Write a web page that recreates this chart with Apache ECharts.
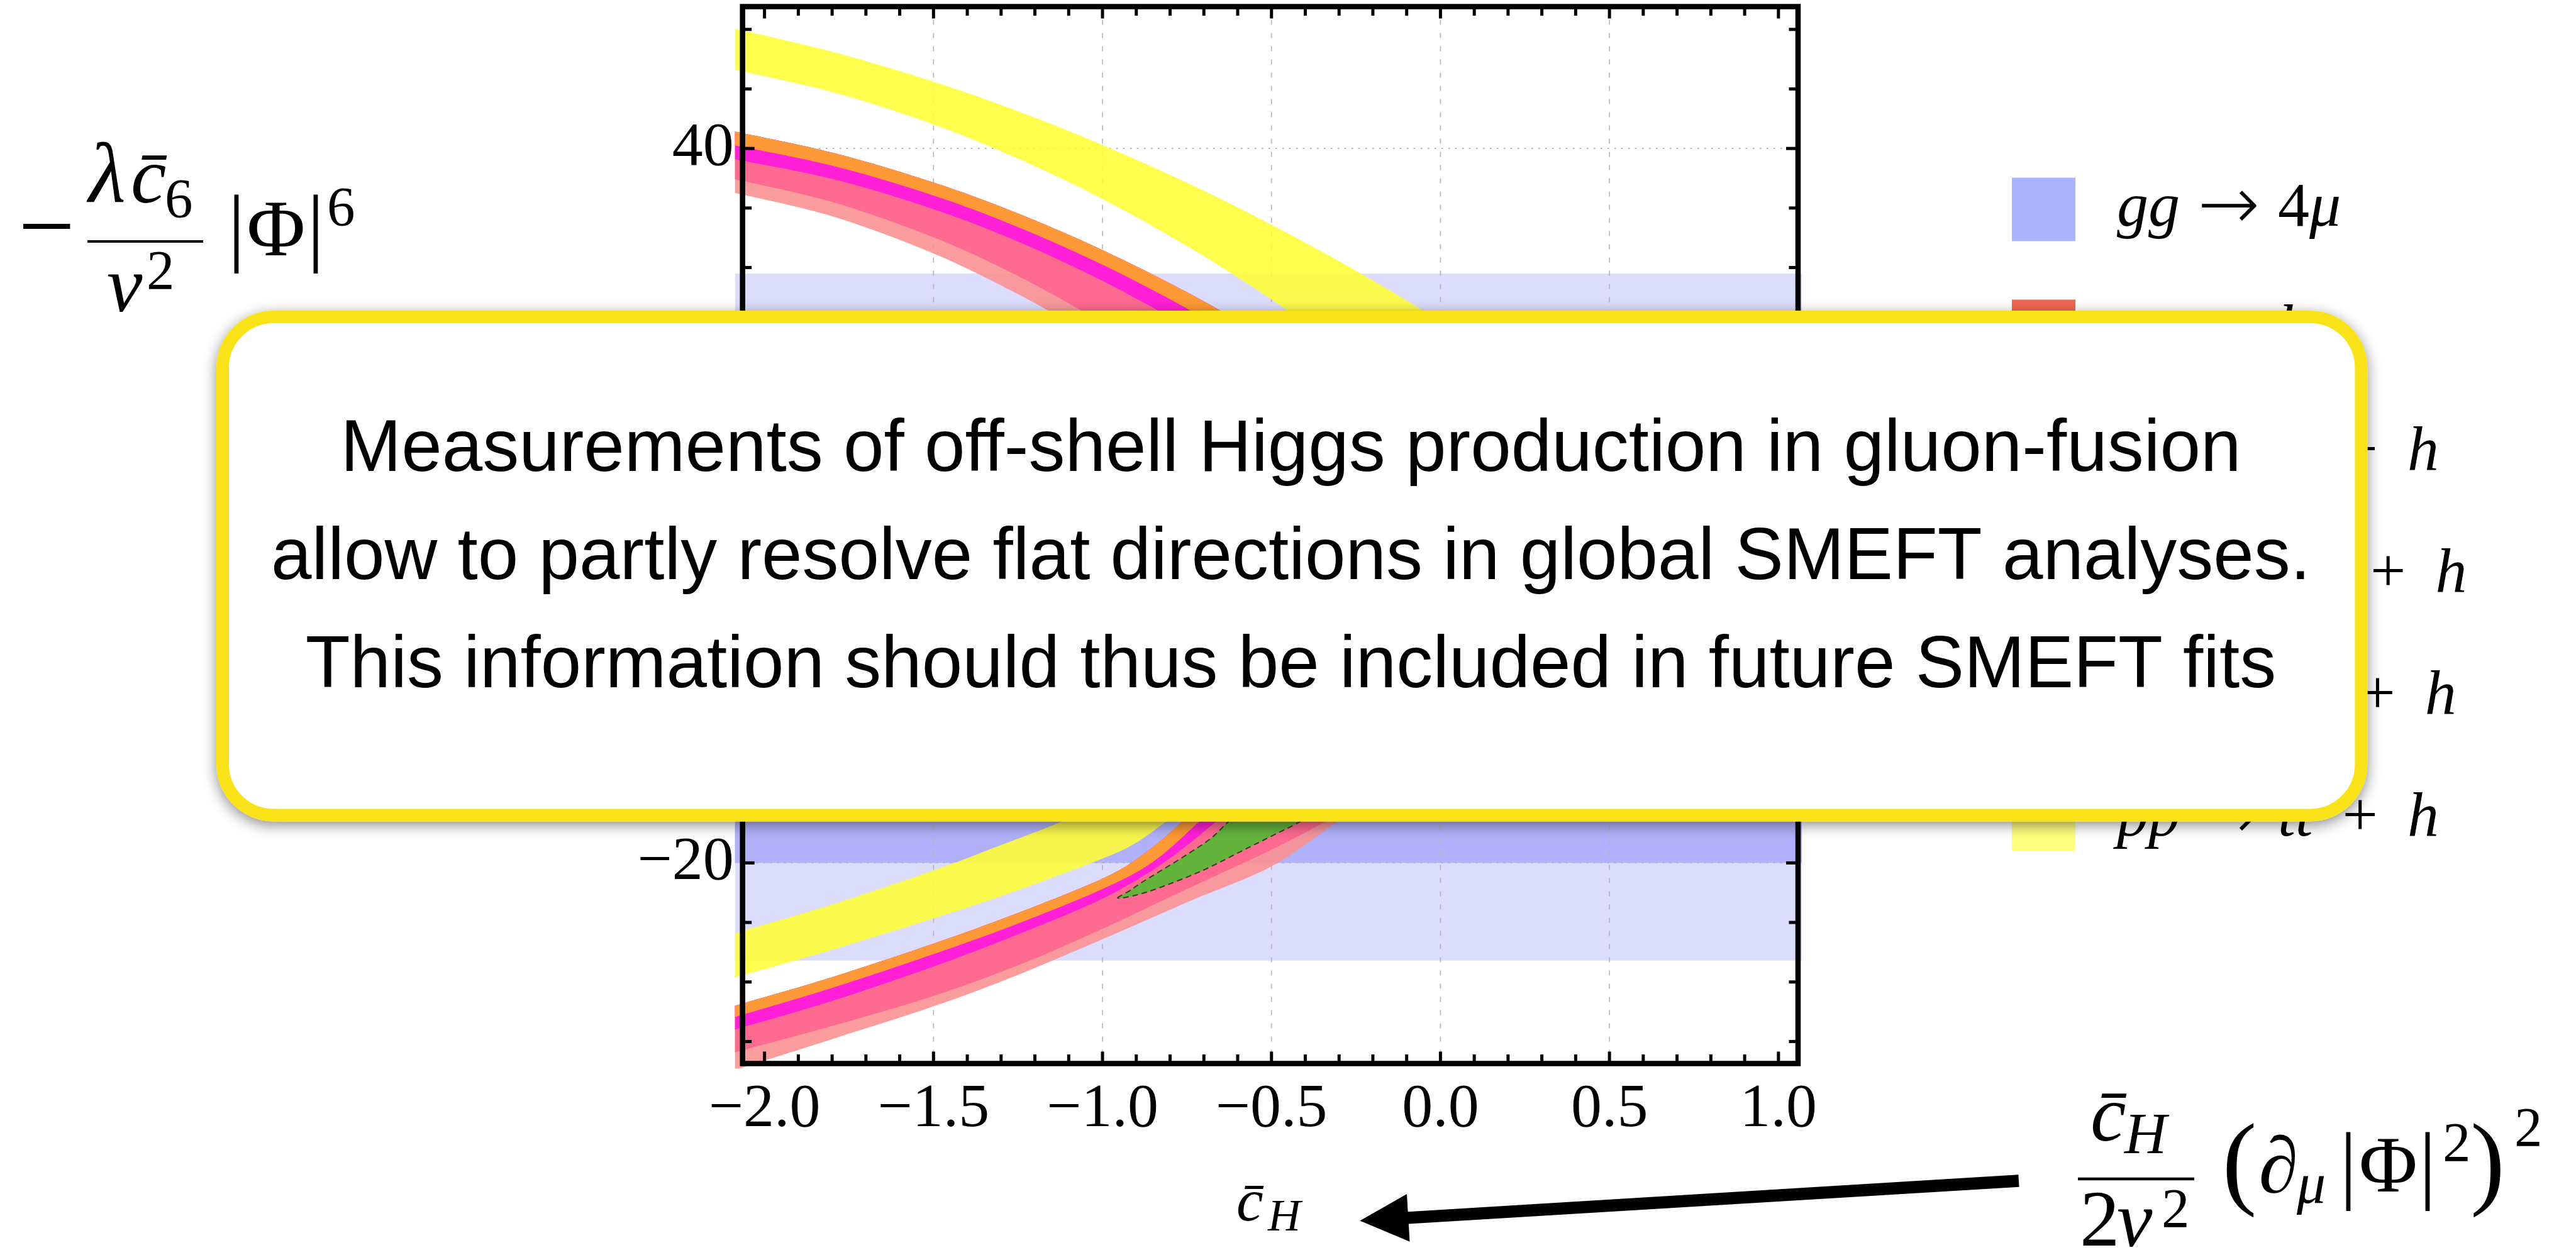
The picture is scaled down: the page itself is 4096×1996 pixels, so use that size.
<!DOCTYPE html>
<html>
<head>
<meta charset="utf-8">
<script src="https://cdn.jsdelivr.net/npm/echarts@6.0.0/dist/echarts.min.js"></script>
<style>
html,body{margin:0;padding:0;background:#ffffff;}
#chart{width:4096px;height:1996px;}
</style>
</head>
<body>
<div id="chart"></div>
<script>
// ---------------- DATA ----------------
const X_RANGE = [-2.065, 1.058];
const Y_RANGE = [-36.85, 51.92];
const X_TICK_LABELS = [-2, -1.5, -1, -0.5, 0, 0.5, 1];
const X_MINOR_TICKS = [-1.9,-1.8,-1.7,-1.6,-1.4,-1.3,-1.2,-1.1,-0.9,-0.8,-0.7,-0.6,-0.4,-0.3,-0.2,-0.1,0.1,0.2,0.3,0.4,0.6,0.7,0.8,0.9];
const Y_TICK_LABELS = [-20, 0, 20, 40];
const Y_MINOR_TICKS = [-35,-30,-25,-15,-10,-5,5,10,15,25,30,35,45,50];
const X_GRIDLINES = [-1.5, -1, -0.5, 0, 0.5];
const Y_GRIDLINES = [-20, 0, 20, 40];

// gg -> 4mu allowed bands (y limits)
const GG4MU_LIGHT = [-28.2, 29.5];
const GG4MU_DARK = [-20.0, 12.0];

// pp -> tt h (yellow) band edges, upper and lower branch
const TTH_UPPER_TOP = [[-2.10,50.14],[-1.80,48.12],[-1.50,45.60],[-1.25,43.12],[-1.00,40.29],[-0.75,37.11],[-0.50,33.59],[-0.25,29.73],[0.00,25.51],[0.20,21.90]];
const TTH_UPPER_BOT = [[-2.10,46.68],[-1.80,44.74],[-1.50,42.02],[-1.25,39.16],[-1.00,35.76],[-0.75,31.81],[-0.50,27.32],[-0.25,22.29]];
const TTH_LOWER_TOP = [[-2.10,-26.0],[-1.80,-23.5],[-1.50,-20.64],[-1.30,-18.5],[-1.126,-16.6],[-1.00,-15.0],[-0.90,-13.5]];
const TTH_LOWER_BOT = [[-2.10,-29.7],[-1.80,-27.3],[-1.50,-24.67],[-1.25,-22.3],[-1.00,-19.64],[-0.90,-18.3],[-0.816,-16.6],[-0.72,-14.5],[-0.65,-12.8]];

// Higgs cluster edges (0 = outer orange edge ... 4 = outer salmon edge)
const H_UPPER_0 = [[-2.10,41.49],[-1.80,39.65],[-1.50,37.14],[-1.25,34.54],[-1.00,31.47],[-0.75,27.93],[-0.50,23.92],[-0.40,22.19]];
const H_UPPER_1 = [[-2.10,40.32],[-1.80,38.55],[-1.50,36.05],[-1.25,33.40],[-1.00,30.24],[-0.75,26.56],[-0.50,22.37]];
const H_UPPER_2 = [[-2.10,39.16],[-1.80,37.44],[-1.50,34.90],[-1.25,32.18],[-1.00,28.88],[-0.75,25.03],[-0.60,22.45]];
const H_UPPER_3 = [[-2.10,37.49],[-1.80,35.50],[-1.50,32.53],[-1.25,29.29],[-1.00,25.37],[-0.85,22.68]];
const H_UPPER_4 = [[-2.10,36.35],[-1.80,34.31],[-1.50,31.19],[-1.25,27.77],[-1.10,25.35],[-1.00,23.59]];
const H_LOWER_0 = [[-2.10,-32.1],[-1.80,-29.6],[-1.50,-26.78],[-1.25,-24.2],[-1.00,-21.32],[-0.88,-19.3],[-0.766,-16.6],[-0.68,-14.3],[-0.62,-12.5]];
const H_LOWER_1 = [[-2.10,-33.05],[-1.80,-30.5],[-1.50,-27.66],[-1.25,-25.1],[-1.00,-22.2],[-0.85,-19.9],[-0.717,-16.6],[-0.64,-14.4],[-0.58,-12.6]];
const H_LOWER_2 = [[-2.10,-34.1],[-1.80,-31.6],[-1.50,-28.71],[-1.25,-26.0],[-1.00,-23.0],[-0.82,-20.0],[-0.667,-16.6],[-0.59,-14.5],[-0.53,-12.7]];
const H_LOWER_3 = [[-2.10,-36.0],[-1.80,-33.7],[-1.50,-31.17],[-1.25,-28.6],[-1.00,-25.53],[-0.75,-22.2],[-0.50,-18.9],[-0.345,-16.6],[-0.25,-15.0],[-0.16,-13.3]];
const H_LOWER_4 = [[-2.10,-37.5],[-1.80,-34.8],[-1.50,-32.05],[-1.25,-29.4],[-1.00,-26.41],[-0.75,-23.3],[-0.50,-20.3],[-0.308,-16.6],[-0.20,-14.6],[-0.12,-13.0]];

// combined (green) region outline
const COMBINED_REGION = [[-0.955,-22.95],[-0.92,-22.35],[-0.89,-21.75],[-0.83,-20.7],[-0.75,-19.3],[-0.68,-17.95],[-0.63,-16.6],[-0.57,-15.0],
  [-0.34,-15.2],[-0.42,-16.6],[-0.50,-17.75],[-0.581,-18.9],[-0.705,-20.65],[-0.829,-22.06],[-0.90,-22.7]];

const LEGEND_NAMES = ['gg → 4μ', 'pp → h', 'pp → Z + h', 'pp → bb̄ + h', 'pp → W + h', 'pp → tt̄ + h'];
const BOX_LINES = [
  'Measurements of off-shell Higgs production in gluon-fusion',
  'allow to partly resolve flat directions in global SMEFT analyses.',
  'This information should thus be included in future SMEFT fits'
];

// ---------------- STYLE ----------------
const LEGEND_COLORS = ['#abb4fc', '#f26656', '#fd9a36', '#ff20d8', '#ff6b90', '#ffff80'];
const C_LIGHT_BLUE = '#dcdcfd', C_DARK_BLUE = '#b1b1fb';
const C_YELLOW = '#fefe34', C_SALMON = '#fc8f8f', C_PINK = '#ff648e', C_MAGENTA = '#ff15e0', C_ORANGE = '#fdab20', C_GREEN = '#4dbd30';
const BAND_OPACITY = 0.88;
const GRID_BOX = { left: 1180.7, top: 10.4, width: 1678.3, height: 1681.1 };
const CLIP = { l: 12, r: 6, t: 6, b: 8 };
const FRAME_W = 8.5, TICK_W = 5, MAJ = 19, MINL = 14.5;
const SERIF = '"Liberation Serif", "DejaVu Serif", serif';
const SANS = '"Liberation Sans", Arial, sans-serif';

const rev = a => a.slice().reverse();

function clipRect(cs) {
  return { type: 'rect', shape: { x: cs.x - CLIP.l, y: cs.y - CLIP.t, width: cs.width + CLIP.l + CLIP.r, height: cs.height + CLIP.t + CLIP.b } };
}

// Catmull-Rom -> cubic Bezier segments through pixel points (rendering only)
function crSegments(P, closed) {
  const n = P.length;
  let d = '';
  const last = closed ? n : n - 1;
  for (let i = 0; i < last; i++) {
    const g = k => closed ? P[(k + n) % n] : P[Math.max(0, Math.min(n - 1, k))];
    const p0 = g(i - 1), p1 = g(i), p2 = g(i + 1), p3 = g(i + 2);
    const c1x = p1[0] + (p2[0] - p0[0]) / 6, c1y = p1[1] + (p2[1] - p0[1]) / 6;
    const c2x = p2[0] - (p3[0] - p1[0]) / 6, c2y = p2[1] - (p3[1] - p1[1]) / 6;
    d += 'C' + c1x.toFixed(2) + ',' + c1y.toFixed(2) + ' ' + c2x.toFixed(2) + ',' + c2y.toFixed(2) + ' ' + p2[0].toFixed(2) + ',' + p2[1].toFixed(2);
  }
  return d;
}
function bandPathData(api, top, bot) {
  const A = top.map(p => api.coord(p));
  const B = rev(bot).map(p => api.coord(p));
  return 'M' + A[0][0].toFixed(2) + ',' + A[0][1].toFixed(2) + crSegments(A, false) +
    'L' + B[0][0].toFixed(2) + ',' + B[0][1].toFixed(2) + crSegments(B, false) + 'Z';
}
function closedPathData(api, pts) {
  const P = pts.map(p => api.coord(p));
  return 'M' + P[0][0].toFixed(2) + ',' + P[0][1].toFixed(2) + crSegments(P, true) + 'Z';
}

// shapes: array of {top, bot} (band between two edges) or {loop} (closed outline)
function bandSeries(name, shapes, color, opacity, z, extraStyle) {
  return {
    type: 'custom', name, silent: true, z: z,
    data: shapes.map((s, i) => { const p = (s.top || s.loop)[0]; return [p[0], p[1], i]; }),
    renderItem: (params, api) => {
      const cs = params.coordSys;
      const s = shapes[params.dataIndex];
      const d = s.loop ? closedPathData(api, s.loop) : bandPathData(api, s.top, s.bot);
      return {
        type: 'path',
        shape: { pathData: d },
        style: Object.assign({ fill: color, opacity: opacity }, extraStyle || {}),
        clipPath: clipRect(cs)
      };
    }
  };
}

function blueSeries(name, lim, color) {
  return {
    type: 'custom', name, silent: true, z: 1,
    data: [[X_RANGE[0], lim[0]]],
    renderItem: (params, api) => {
      const cs = params.coordSys;
      const yTop = api.coord([X_RANGE[0], lim[1]])[1];
      const yBot = api.coord([X_RANGE[0], lim[0]])[1];
      return {
        type: 'rect',
        shape: { x: cs.x - CLIP.l, y: yTop, width: cs.width + CLIP.l + CLIP.r, height: yBot - yTop },
        style: { fill: color }
      };
    }
  };
}

const gridSeries = {
  type: 'custom', name: 'gridlines', silent: true, z: 2,
  data: [[X_RANGE[0], Y_RANGE[0]]],
  renderItem: (params, api) => {
    const cs = params.coordSys;
    const kids = [];
    X_GRIDLINES.forEach(v => {
      const px = api.coord([v, 0])[0];
      kids.push({ type: 'line', shape: { x1: px, y1: cs.y, x2: px, y2: cs.y + cs.height }, style: { stroke: '#b4b4b4', lineWidth: 1.6, lineDash: [8, 13] } });
    });
    Y_GRIDLINES.forEach(v => {
      const py = api.coord([0, v])[1];
      kids.push({ type: 'line', shape: { x1: cs.x, y1: py, x2: cs.x + cs.width, y2: py }, style: { stroke: '#b4b4b4', lineWidth: 1.8, lineDash: [3, 8] } });
    });
    return { type: 'group', children: kids };
  }
};

const frameSeries = {
  type: 'custom', name: 'frame', silent: true, z: 8,
  data: [[X_RANGE[0], Y_RANGE[0]]],
  renderItem: (params, api) => {
    const cs = params.coordSys;
    const L = cs.x, R = cs.x + cs.width, T = cs.y, B = cs.y + cs.height;
    const kids = [];
    const tick = (x1, y1, x2, y2) => kids.push({ type: 'line', shape: { x1, y1, x2, y2 }, style: { stroke: '#000', lineWidth: TICK_W } });
    X_TICK_LABELS.forEach(v => { const px = api.coord([v, 0])[0]; tick(px, B, px, B - MAJ); tick(px, T, px, T + MAJ); });
    X_MINOR_TICKS.forEach(v => { const px = api.coord([v, 0])[0]; tick(px, B, px, B - MINL); tick(px, T, px, T + MINL); });
    Y_TICK_LABELS.forEach(v => { const py = api.coord([0, v])[1]; tick(L, py, L + MAJ, py); tick(R, py, R - MAJ, py); });
    Y_MINOR_TICKS.forEach(v => { const py = api.coord([0, v])[1]; tick(L, py, L + MINL, py); tick(R, py, R - MINL, py); });
    kids.push({ type: 'rect', shape: { x: L, y: T, width: cs.width, height: cs.height }, style: { fill: 'none', stroke: '#000', lineWidth: FRAME_W } });
    return { type: 'group', children: kids };
  }
};

const fmtNum = (v, d) => (v < 0 ? '\u2212' : '') + Math.abs(v).toFixed(d);

// ---------------- TEXT HELPERS (graphic) ----------------
const K_SERIF = 0.3375, K_SANS = 0.3465;
function T(text, x, base, fs, o) {
  o = o || {};
  const fam = o.family || SERIF;
  const k = o.k !== undefined ? o.k : K_SERIF;
  const al = o.align || 'left';
  return {
    type: 'text', z: 110, x: x, y: base - k * fs, silent: true,
    style: { text: text, font: (o.italic ? 'italic ' : '') + fs + 'px ' + fam, fill: '#000',
      align: al, verticalAlign: 'middle', textAlign: al, textVerticalAlign: 'middle' }
  };
}
function L(x1, y1, x2, y2, w) {
  return { type: 'line', z: 110, silent: true, shape: { x1, y1, x2, y2 }, style: { stroke: '#000', lineWidth: w } };
}

// arrow (decoration)
const ARROW_TAIL = [3210, 1878], ARROW_TIP = [2162.4, 1941.5];
function arrowPolygon() {
  const dx = ARROW_TIP[0] - ARROW_TAIL[0], dy = ARROW_TIP[1] - ARROW_TAIL[1];
  const len = Math.hypot(dx, dy), ux = dx / len, uy = dy / len;
  const nx = uy, ny = -ux;
  const HL = 77, HW = 38, SW = 9.7;
  const bx = ARROW_TIP[0] - ux * HL, by = ARROW_TIP[1] - uy * HL;
  const P = (x, y, s) => [x + nx * s, y + ny * s];
  return [ARROW_TIP, P(bx, by, -HW), P(bx, by, -SW), P(ARROW_TAIL[0], ARROW_TAIL[1], -SW), P(ARROW_TAIL[0], ARROW_TAIL[1], SW), P(bx, by, SW), P(bx, by, HW)];
}

const graphics = [
  // y-axis operator (top left)
  T('\u2212', 74, 425, 160, { align: 'center' }),
  L(139, 384, 323, 384, 3.8),
  T('λ', 141, 331, 136, { italic: true }),
  T('c\u0304', 208, 331, 127, { italic: true }),
  T('6', 262, 352, 89),
  T('v', 170, 504, 127, { italic: true }),
  T('2', 233, 466, 89),
  T('|', 376, 416.7, 137, { align: 'center' }),
  T('Φ', 439, 416, 127, { align: 'center' }),
  T('|', 502, 416.7, 137, { align: 'center' }),
  T('6', 520, 365, 89),
  // x-axis title
  T('c\u0304', 1966, 1948, 96, { italic: true }),
  T('H', 2016, 1962, 72, { italic: true }),
  // operator (bottom right)
  T('c\u0304', 3324, 1823, 127, { italic: true }),
  T('H', 3378, 1841, 93, { italic: true }),
  L(3304, 1875, 3489, 1875, 4.7),
  T('2', 3307, 1991, 127),
  T('v', 3366, 1991, 127, { italic: true }),
  T('2', 3437, 1958, 89),
  T('(', 3561, 1913.8, 165, { align: 'center' }),
  T('∂', 3623, 1906, 127, { align: 'center' }),
  T('μ', 3652, 1920, 92, { italic: true }),
  T('|', 3734, 1907, 137, { align: 'center' }),
  T('Φ', 3797.5, 1905, 127, { align: 'center' }),
  T('|', 3860, 1907, 137, { align: 'center' }),
  T('2', 3884, 1853, 89),
  T(')', 3955.5, 1913.8, 165, { align: 'center' }),
  T('2', 3998, 1829, 89),
  // arrow
  { type: 'polygon', z: 110, silent: true, shape: { points: arrowPolygon() }, style: { fill: '#000' } },
  // message box
  { type: 'rect', z: 100, silent: true, shape: { x: 344, y: 494, width: 3420.4, height: 812.4, r: 91 },
    style: { fill: '#ffffff', shadowBlur: 22, shadowColor: 'rgba(0,0,0,0.45)', shadowOffsetX: 0, shadowOffsetY: 6 } },
  { type: 'rect', z: 101, silent: true, shape: { x: 354, y: 504, width: 3400.4, height: 792.4, r: 81 },
    style: { fill: '#ffffff', stroke: '#fae219', lineWidth: 20 } },
  { type: 'text', z: 102, silent: true, x: 2052.5, y: 929 - K_SANS * 116,
    style: { text: BOX_LINES.join('\n'), font: '116px ' + SANS, fill: '#000', lineHeight: 172,
      align: 'center', verticalAlign: 'middle', textAlign: 'center', textVerticalAlign: 'middle' } }
];

// ---------------- LEGEND ----------------
const LEGEND_RICH_TEXT = {
  'gg → 4μ': '{sp0|}{i|gg}{s1|}{a|→}{s1|}{r|4}{i|μ}',
  'pp → h': '{sp0|}{i|pp}{s1|}{a|→}{s1|}{i|h}',
  'pp → Z + h': '{sp0|}{i|pp}{s1|}{a|→}{s1|}{i|Z}{s2|}{r|+}{s2|}{i|h}',
  'pp → bb̄ + h': '{sp0|}{i|pp}{s1|}{a|→}{s1|}{i|bb\u0304}{s2|}{r|+}{s2|}{i|h}',
  'pp → W + h': '{sp0|}{i|pp}{s1|}{a|→}{s1|}{i|W}{s2|}{r|+}{s2|}{i|h}',
  'pp → tt̄ + h': '{sp0|}{i|pp}{s1|}{a|→}{s1|}{i|tt\u0304}{s2|}{r|+}{s2|}{i|h}'
};

// ---------------- SERIES ----------------
const series = [
  blueSeries(LEGEND_NAMES[0], GG4MU_LIGHT, C_LIGHT_BLUE),
  blueSeries(LEGEND_NAMES[0], GG4MU_DARK, C_DARK_BLUE),
  gridSeries,
  bandSeries(LEGEND_NAMES[5], [{ top: TTH_UPPER_TOP, bot: TTH_UPPER_BOT }, { top: TTH_LOWER_TOP, bot: TTH_LOWER_BOT }], C_YELLOW, BAND_OPACITY, 3),
  bandSeries(LEGEND_NAMES[1], [{ top: H_UPPER_0, bot: H_UPPER_4 }, { top: H_LOWER_0, bot: H_LOWER_4 }], C_SALMON, BAND_OPACITY, 3),
  bandSeries(LEGEND_NAMES[4], [{ top: H_UPPER_0, bot: H_UPPER_3 }, { top: H_LOWER_0, bot: H_LOWER_3 }], C_PINK, BAND_OPACITY, 3),
  bandSeries(LEGEND_NAMES[3], [{ top: H_UPPER_0, bot: H_UPPER_2 }, { top: H_LOWER_0, bot: H_LOWER_2 }], C_MAGENTA, BAND_OPACITY, 3),
  bandSeries(LEGEND_NAMES[2], [{ top: H_UPPER_0, bot: H_UPPER_1 }, { top: H_LOWER_0, bot: H_LOWER_1 }], C_ORANGE, BAND_OPACITY, 3),
  bandSeries('combined', [{ loop: COMBINED_REGION }], C_GREEN, BAND_OPACITY, 4, { stroke: '#1f3a14', lineWidth: 2, lineDash: [9, 6] }),
  frameSeries
];

const chart = echarts.init(document.getElementById('chart'), null, { renderer: 'canvas', devicePixelRatio: 1 });
chart.setOption({
  animation: false,
  backgroundColor: '#ffffff',
  grid: Object.assign({ show: false, containLabel: false, outerBoundsMode: 'none' }, GRID_BOX),
  xAxis: {
    type: 'value', min: X_RANGE[0], max: X_RANGE[1],
    axisLine: { show: false }, axisTick: { show: false }, splitLine: { show: false }, minorTick: { show: false },
    axisLabel: { customValues: X_TICK_LABELS, formatter: v => fmtNum(v, 1), fontFamily: SERIF, fontSize: 98, lineHeight: 98, color: '#000', margin: 24.5 }
  },
  yAxis: {
    type: 'value', min: Y_RANGE[0], max: Y_RANGE[1],
    axisLine: { show: false }, axisTick: { show: false }, splitLine: { show: false }, minorTick: { show: false },
    axisLabel: { customValues: Y_TICK_LABELS, formatter: v => fmtNum(v, 0), fontFamily: SERIF, fontSize: 98, lineHeight: 98, color: '#000', margin: 14 }
  },
  legend: {
    left: 3199, top: 274, orient: 'vertical', selectedMode: false,
    itemWidth: 101, itemHeight: 101, itemGap: 76, icon: 'rect', padding: 0,
    data: LEGEND_NAMES.map((n, i) => ({ name: n, icon: 'rect', itemStyle: { color: LEGEND_COLORS[i], borderWidth: 0, opacity: 1 } })),
    formatter: name => LEGEND_RICH_TEXT[name],
    textStyle: {
      color: '#000',
      rich: {
        i: { fontFamily: SERIF, fontStyle: 'italic', fontSize: 100, lineHeight: 101, color: '#000' },
        r: { fontFamily: SERIF, fontSize: 100, lineHeight: 101, color: '#000' },
        a: { fontFamily: '"DejaVu Sans", sans-serif', fontWeight: 200, fontSize: 118, lineHeight: 101, width: 100, align: 'center', color: '#000' },
        sp0: { width: 61 },
        s1: { width: 28 },
        s2: { width: 47 }
      }
    }
  },
  graphic: graphics,
  series: series
});
</script>
</body>
</html>
